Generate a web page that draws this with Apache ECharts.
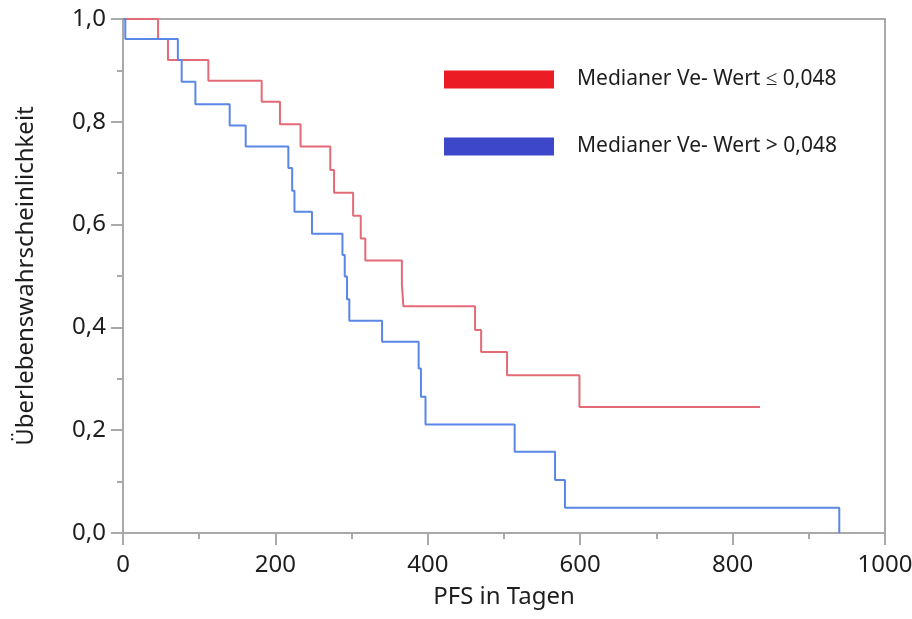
<!DOCTYPE html>
<html lang="de">
<head>
<meta charset="UTF-8">
<title>PFS Kaplan-Meier</title>
<script src="https://cdn.jsdelivr.net/npm/echarts@6/dist/echarts.min.js"></script>
<style>
  html, body { margin: 0; padding: 0; background: #fff; }
  #main { width: 912px; height: 619px; }
</style>
</head>
<body>
<div id="main"></div>
<script>
// Kaplan-Meier Stufen: [Tage, Überlebenswahrscheinlichkeit]
var lowNames = 'Medianer Ve- Wert \u2264 0,048';
var highNames = 'Medianer Ve- Wert > 0,048';

var lowDays = [0, 46, 59, 112, 182, 206, 233, 272, 277, 302, 312, 318, 366, 368, 462, 470, 504, 599, 836];
var lowSurv = [1.0, 0.961, 0.920, 0.880, 0.839, 0.795, 0.752, 0.706, 0.662, 0.617, 0.573, 0.530, 0.484, 0.441, 0.395, 0.352, 0.307, 0.245, 0.245];

var highDays = [0, 3, 72, 77, 95, 140, 161, 217, 222, 225, 248, 288, 291, 294, 297, 340, 388, 391, 397, 514, 567, 580, 940];
var highSurv = [1.0, 0.961, 0.920, 0.878, 0.834, 0.793, 0.752, 0.710, 0.666, 0.625, 0.582, 0.541, 0.499, 0.455, 0.413, 0.372, 0.320, 0.265, 0.211, 0.158, 0.103, 0.049, 0.0];

function pairs(xs, ys) {
  var out = [];
  for (var i = 0; i < xs.length; i++) out.push([xs[i], ys[i]]);
  return out;
}

var font = 'Noto Sans';
var axisGray = '#a9a9a9';
var textCol = '#1e1e1e';

var chart = echarts.init(document.getElementById('main'));
chart.setOption({
  animation: false,
  textStyle: { fontFamily: font },
  grid: {
    left: 123, right: 27, top: 19, bottom: 86,
    outerBoundsMode: 'none',
    show: true, borderColor: axisGray, borderWidth: 2
  },
  legend: {
    orient: 'vertical',
    left: 444, top: 69, padding: 0,
    icon: 'rect',
    itemWidth: 110, itemHeight: 18, itemGap: 46,
    textStyle: { fontSize: 21, color: textCol, padding: [0, 0, 0, 18] },
    data: [
      { name: lowNames, itemStyle: { color: '#ec1c24' } },
      { name: highNames, itemStyle: { color: '#3d47c9' } }
    ]
  },
  xAxis: {
    type: 'value', min: 0, max: 1000, interval: 200,
    name: 'PFS in Tagen', nameLocation: 'middle', nameGap: 52,
    nameTextStyle: { fontSize: 24, color: textCol },
    axisLine: { lineStyle: { color: axisGray, width: 2 } },
    axisTick: { length: 12, lineStyle: { color: axisGray, width: 2 } },
    minorTick: { show: true, splitNumber: 2, length: 6, lineStyle: { color: axisGray, width: 2 } },
    axisLabel: {
      fontSize: 24, color: textCol, margin: 20,
      formatter: function (v) { return String(v); }
    },
    splitLine: { show: false }
  },
  yAxis: {
    type: 'value', min: 0, max: 1, interval: 0.2,
    name: '\u00dcberlebenswahrscheinlichkeit', nameLocation: 'middle', nameGap: 85,
    nameTextStyle: { fontSize: 24, color: textCol },
    axisLine: { lineStyle: { color: axisGray, width: 2 } },
    axisTick: { length: 12, lineStyle: { color: axisGray, width: 2 } },
    minorTick: { show: true, splitNumber: 2, length: 6, lineStyle: { color: axisGray, width: 2 } },
    axisLabel: {
      fontSize: 24, color: textCol, margin: 17,
      formatter: function (v) { return v.toFixed(1).replace('.', ','); }
    },
    splitLine: { show: false }
  },
  series: [
    {
      name: lowNames, type: 'line', step: 'end', showSymbol: false,
      color: '#e36b78',
      lineStyle: { color: '#e36b78', width: 2 },
      data: pairs(lowDays, lowSurv)
    },
    {
      name: highNames, type: 'line', step: 'end', showSymbol: false,
      color: '#5a86e6',
      lineStyle: { color: '#5a86e6', width: 2 },
      data: pairs(highDays, highSurv)
    }
  ]
});
</script>
</body>
</html>
